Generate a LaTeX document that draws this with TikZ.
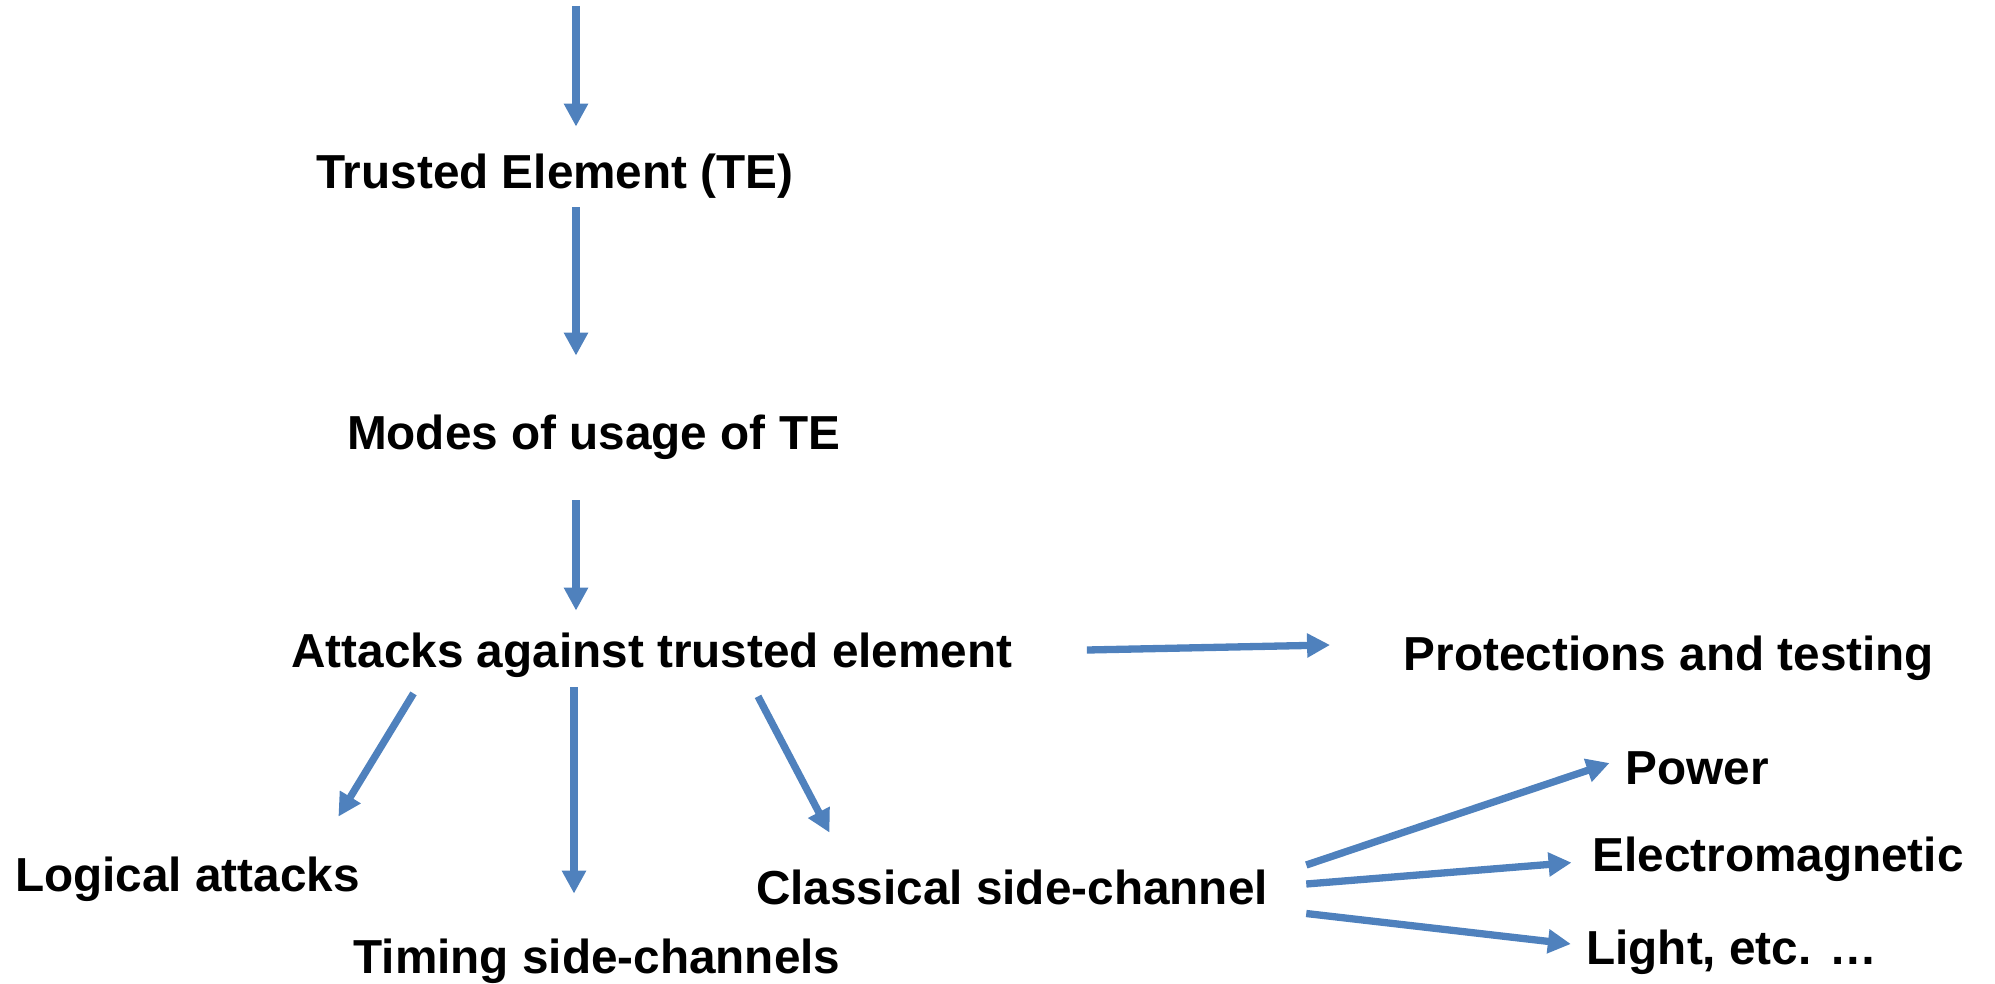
\documentclass[tikz,border=0pt]{standalone}
\usepackage{fontspec}
\setmainfont{Liberation Sans}
\usetikzlibrary{arrows.meta}
\definecolor{officeblue}{RGB}{79,129,189}

\tikzset{
  topic/.style={font=\fontsize{23.85}{28}\selectfont\bfseries, inner sep=0pt,
    text height=19.4pt, text depth=3pt},
  flow/.style={draw=officeblue, line width=3.65pt,
    -{Triangle[width=11.5pt,length=11.5pt]}}
}

\begin{document}
\begin{tikzpicture}[x=0.5pt,y=-0.5pt]
\useasboundingbox (0,0) rectangle (1995,984);

% main chain
\coordinate (top) at (576,6);
\node[topic] (te) at (555,172) {Trusted Element (TE)};
\node[topic] (modes) at (593.5,433) {Modes of usage of TE};
\node[topic] (attacks) at (652,651) {Attacks against trusted element};
\node[topic] (protect) at (1669,654) {Protections and testing};

% attack kinds
\node[topic] (logical) at (187.5,875) {Logical attacks};
\node[topic] (timing) at (597,957) {Timing side-channels};
\node[topic] (classical) at (1012,888) {Classical side-channel};

% channels
\node[topic] (power) at (1697,768) {Power};
\node[topic] (em) at (1778,855) {Electromagnetic};
\node[topic] (light) at (1731.6,948) {Light, etc. …};

\draw[flow] (top) -- ([shift={(21,-22.6)}]te.north);
\draw[flow] ([shift={(21,12.6)}]te.south) -- ([shift={(-17.5,-54.6)}]modes.north);
\draw[flow] ([shift={(-17.5,44.6)}]modes.south) -- ([shift={(-76,-17.6)}]attacks.north);
\draw[flow] ([shift={(74,-1)}]attacks.east) -- ([shift={(-73.5,-9)}]protect.west);

\draw[flow] ([shift={(-238.5,19.6)}]attacks.south) -- ([shift={(150.9,-35.6)}]logical.north);
\draw[flow] ([shift={(-78,13.6)}]attacks.south) -- ([shift={(-23,-40.6)}]timing.north);
\draw[flow] ([shift={(106,22.6)}]attacks.south) -- ([shift={(-182.5,-32.6)}]classical.north);

\draw[flow] ([shift={(38,-23)}]classical.east) -- ([shift={(-15.5,-5)}]power.west);
\draw[flow] ([shift={(38,-4)}]classical.east) -- ([shift={(-20.5,7.6)}]em.west);
\draw[flow] ([shift={(38,25.5)}]classical.east) -- ([shift={(-15,-4)}]light.west);

\end{tikzpicture}
\end{document}
